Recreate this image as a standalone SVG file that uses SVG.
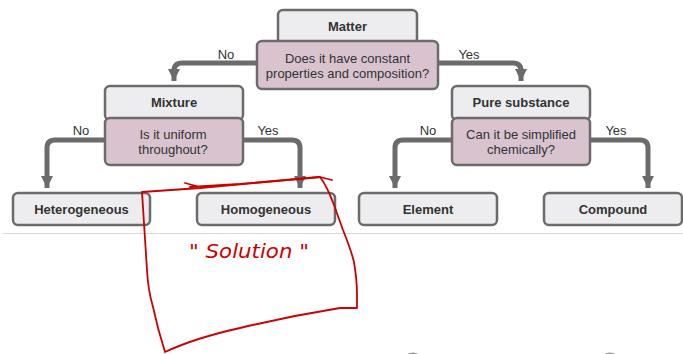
<svg xmlns="http://www.w3.org/2000/svg" width="683" height="354" viewBox="0 0 683 354">
<style>
.lbl{fill:#ededef;stroke:#6b6b6b;stroke-width:2.5}
.q{fill:#d8c3cf;stroke:#6b6b6b;stroke-width:2.5}
.t{font-family:"Liberation Sans",Arial,sans-serif;font-size:13px;fill:#333;text-anchor:middle}
.b{font-weight:bold}
.con{fill:none;stroke:#6b6b6b;stroke-width:5;stroke-linejoin:round}
.red{fill:none;stroke:#cc0000;stroke-width:1.8;stroke-linecap:round;stroke-linejoin:round}
</style>
<defs>
<marker id="ah" markerWidth="13" markerHeight="12" refX="13" refY="6.5" orient="auto" markerUnits="userSpaceOnUse" viewBox="0 0 13 13">
<path d="M0,0 L13,6.5 L0,13 Z" fill="#6b6b6b"/>
</marker>
</defs>
<rect width="683" height="354" fill="#ffffff"/>
<line x1="3" y1="233.5" x2="683" y2="233.5" stroke="#d9d9d9" stroke-width="1"/>
<g id="connectors">
<path class="con" d="M258,63 H182 Q174,63 174,71 V81" marker-end="url(#ah)"/>
<path class="con" d="M437,63 H513 Q521,63 521,71 V81" marker-end="url(#ah)"/>
<path class="con" d="M106,140 H55 Q47,140 47,148 V188" marker-end="url(#ah)"/>
<path class="con" d="M242,140 H292 Q300,140 300,148 V188" marker-end="url(#ah)"/>
<path class="con" d="M453,140 H403 Q395,140 395,148 V188" marker-end="url(#ah)"/>
<path class="con" d="M589,140 H640 Q648,140 648,148 V188" marker-end="url(#ah)"/>
<text class="t" x="226" y="59">No</text>
<text class="t" x="469" y="59">Yes</text>
<text class="t" x="81" y="135">No</text>
<text class="t" x="268" y="135">Yes</text>
<text class="t" x="428" y="135">No</text>
<text class="t" x="616" y="135">Yes</text>
</g>
<g id="matter">
<rect class="lbl" x="278" y="10" width="139" height="34" rx="5"/>
<text class="t b" x="347.5" y="31">Matter</text>
</g>
<g id="q-constant">
<rect class="q" x="257" y="41" width="181" height="48" rx="5"/>
<text class="t" x="347.5" y="63">Does it have constant</text>
<text class="t" x="347.5" y="78">properties and composition?</text>
</g>
<g id="mixture">
<rect class="lbl" x="105" y="86" width="138" height="34" rx="5"/>
<text class="t b" x="174" y="107">Mixture</text>
</g>
<g id="q-uniform">
<rect class="q" x="105" y="118" width="138" height="47" rx="5"/>
<text class="t" x="173" y="138.5">Is it uniform</text>
<text class="t" x="173" y="154">throughout?</text>
</g>
<g id="pure">
<rect class="lbl" x="452" y="86" width="138" height="34" rx="5"/>
<text class="t b" x="521" y="107">Pure substance</text>
</g>
<g id="q-simplify">
<rect class="q" x="452" y="118" width="138" height="47" rx="5"/>
<text class="t" x="521" y="138.5">Can it be simplified</text>
<text class="t" x="521" y="154">chemically?</text>
</g>
<g id="heterogeneous">
<rect class="lbl" x="13" y="193" width="137" height="32" rx="5"/>
<text class="t b" x="81.5" y="213.5">Heterogeneous</text>
</g>
<g id="homogeneous">
<rect class="lbl" x="197" y="193" width="138" height="32" rx="5"/>
<text class="t b" x="266" y="213.5">Homogeneous</text>
</g>
<g id="element">
<rect class="lbl" x="359" y="193" width="138" height="32" rx="5"/>
<text class="t b" x="428" y="213.5">Element</text>
</g>
<g id="compound">
<rect class="lbl" x="544" y="193" width="138" height="32" rx="5"/>
<text class="t b" x="613" y="213.5">Compound</text>
</g>
<g id="annotation">
<path class="red" d="M142,192 L200,188 L320,177 Q327,186 334,205 L343,230 Q351,250 354,262 Q357,280 357,295 L357,308 L340,308 Q290,316 240,328 Q195,338 165,352 Q158,330 153,307 Q148,290 147,270 Q145,240 142,192 Z"/>
<path class="red" d="M185,183 L196,186 L190,187 L240,184 L320,177 L332,180"/>
<text x="249" y="258" textLength="120" lengthAdjust="spacingAndGlyphs" font-family="'DejaVu Sans',sans-serif" font-style="italic" font-size="20" fill="#cc0000" text-anchor="middle">" Solution "</text>
</g>
<ellipse cx="413" cy="355" rx="5" ry="2.5" fill="#9a9a9a"/>
<ellipse cx="610" cy="355" rx="5" ry="2.5" fill="#9a9a9a"/>
</svg>
